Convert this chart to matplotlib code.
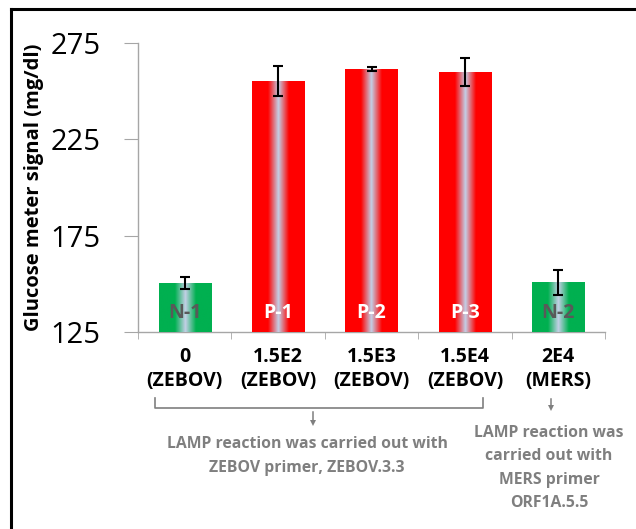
import numpy as np
import matplotlib
matplotlib.use('Agg')
import matplotlib.pyplot as plt
from matplotlib.colors import LinearSegmentedColormap
from matplotlib.lines import Line2D

plt.rcParams['font.family'] = ['Open Sans', 'DejaVu Sans']

# data
categories = ['0\n(ZEBOV)', '1.5E2\n(ZEBOV)', '1.5E3\n(ZEBOV)', '1.5E4\n(ZEBOV)', '2E4\n(MERS)']
values = [150.4, 255.3, 261.5, 259.9, 150.9]
errors = [2.9, 8.0, 0.8, 7.3, 6.5]
bar_labels = ['N-1', 'P-1', 'P-2', 'P-3', 'N-2']
bar_colors = ['#00B050', '#FF0000', '#FF0000', '#FF0000', '#00B050']
label_colors = ['#595959', 'white', 'white', 'white', '#595959']
yticks = [125, 175, 225, 275]

fig = plt.figure(figsize=(6.36, 5.29), dpi=100)
ax = fig.add_axes([138 / 636, 1 - 332 / 529, (605 - 138) / 636, (332 - 43) / 529])

x = np.arange(len(values))
width = 0.56
bars = ax.bar(x, [v - 125 for v in values], width, bottom=125, color=bar_colors, zorder=2)

# horizontal gradient: colour at the edges, light blue stripe in the middle
for bar, col in zip(bars, bar_colors):
    cmap = LinearSegmentedColormap.from_list('g', [(0, col), (0.3, col), (0.5, '#C3CFE6'), (0.7, col), (1, col)])
    x0, y0 = bar.get_x(), bar.get_y()
    img = ax.imshow(np.linspace(0, 1, 200)[None, :], cmap=cmap, aspect='auto',
                    extent=[x0, x0 + bar.get_width(), y0, y0 + bar.get_height()], zorder=3)
    img.set_clip_path(bar)

ax.errorbar(x, values, yerr=errors, fmt='none', ecolor='black', elinewidth=1.5,
            capsize=3.5, capthick=1.5, zorder=4)

for xi, lab, lc in zip(x, bar_labels, label_colors):
    ax.text(xi, 135, lab, ha='center', va='center', color=lc, fontsize=14,
            fontweight='bold', zorder=5)

ax.set_xlim(-0.5, len(values) - 0.5)
ax.set_ylim(125, 275)
ax.set_yticks(yticks)
ax.set_yticklabels([str(t) for t in yticks], fontsize=21)
ax.set_xticks(x)
ax.set_xticklabels(categories, fontsize=14, fontweight='bold', linespacing=1.25)
ax.set_xticks(np.arange(-0.5, len(values), 1), minor=True)
ax.tick_params(axis='x', which='major', length=0, pad=11)
ax.tick_params(axis='x', which='minor', length=5, color='#A6A6A6')
ax.tick_params(axis='y', length=10, color='#A6A6A6', pad=17)
for s in ['top', 'right']:
    ax.spines[s].set_visible(False)
for s in ['left', 'bottom']:
    ax.spines[s].set_color('#A6A6A6')
    ax.spines[s].set_linewidth(1)
ax.set_ylabel('Glucose meter signal (mg/dl)', fontsize=14.5, fontweight='bold')
ax.yaxis.set_label_coords(-0.201, 0.5)

# bracket and notes below the axis (figure pixel coordinates)
def px(xp, yp):
    return xp / 636, 1 - yp / 529

gray = '#7F7F7F'
bx = [155, 155, 483, 483]
by = [398, 408, 408, 398]
fig.add_artist(Line2D([b / 636 for b in bx], [1 - b / 529 for b in by], color=gray, lw=1.2))

# little down arrows: a stem plus a triangle marker at the tip
for ax_x, y_top, y_tip in [(313, 412, 425), (551, 399, 410)]:
    fig.add_artist(Line2D([ax_x / 636] * 2, [1 - y_top / 529, 1 - (y_tip - 2) / 529],
                          color=gray, lw=1.1))
    fig.add_artist(Line2D([ax_x / 636], [1 - (y_tip - 2) / 529], marker='v',
                          markersize=5, color=gray, markeredgewidth=0))

fig.text(*px(307, 456), 'LAMP reaction was carried out with\nZEBOV primer, ZEBOV.3.3',
         ha='center', va='center', color=gray, fontsize=11.3, fontweight='bold', linespacing=1.6)
fig.text(*px(549, 468), 'LAMP reaction was\ncarried out with\nMERS primer\nORF1A.5.5',
         ha='center', va='center', color=gray, fontsize=11.3, fontweight='bold', linespacing=1.6)

# outer frame (top and left edges only)
fig.add_artist(Line2D([11 / 636, 1], [1 - 9 / 529] * 2, color='black', lw=2.2))
fig.add_artist(Line2D([11 / 636] * 2, [0, 1 - 9 / 529], color='black', lw=2.2))

fig.savefig('out.png', dpi=100)
